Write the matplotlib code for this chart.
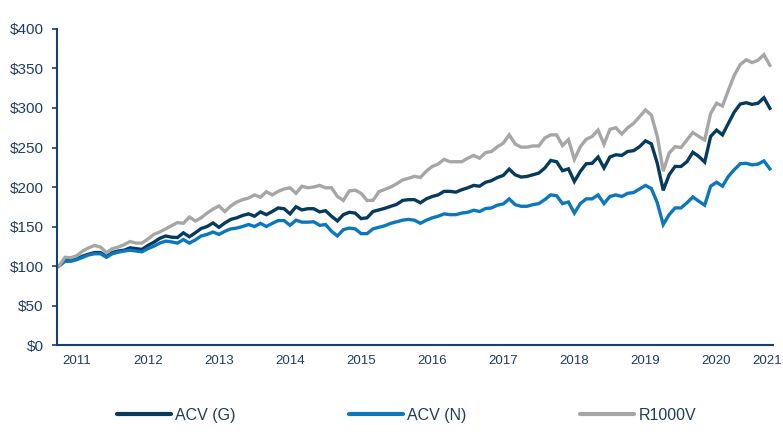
#!/usr/bin/env python3

import numpy as np
import matplotlib
matplotlib.use("Agg")
import matplotlib.pyplot as plt

# growth of $100, monthly
acv_g = [100, 107, 107, 109, 112.5, 115, 117, 117, 112, 117,
         119, 120, 123, 122, 121, 126, 130, 135, 138, 136.5,
         136, 142, 137, 142, 147.5, 150, 154.5, 149, 154.5, 159,
         161, 164, 166, 163, 168.5, 165, 169, 173.5, 172.5, 166,
         175, 171, 172.5, 172.5, 168.5, 170, 163, 157, 165, 168,
         167, 160, 161, 169, 171, 173, 175.6, 178, 183, 184,
         184, 180, 185, 188, 190, 194.5, 194.5, 193.5, 196.6, 199,
         202, 201, 206, 208, 212, 214.7, 222.7, 215.5, 212.6, 213.4,
         215.5, 217.6, 224, 233.6, 232, 220.6, 223, 207, 219.7, 229.4,
         230, 238, 224, 238, 240.8, 240, 245, 246, 251, 258.4,
         254.6, 230, 195.8, 215.5, 226, 226, 232, 244, 238.7, 231.5,
         264, 272, 266, 280.7, 295, 305, 306.7, 304.6, 306, 313, 299.6]

acv_n = [100, 106, 106, 108, 111, 114, 115.5, 115.5, 111, 115.5,
         117.5, 119, 120, 119, 118, 122, 125, 129, 131.5, 130.5,
         129, 133.5, 129, 133, 138, 140, 143, 140, 144, 147,
         148, 150, 152.5, 150, 154, 150, 154, 157.5, 157.5, 151.5,
         158, 155.5, 155.5, 156, 151.5, 152.5, 144, 138, 146, 148,
         147, 141, 141, 147, 149, 151, 154, 156, 158, 159,
         158, 154, 158, 161, 163, 166, 165, 165, 167, 168,
         170.6, 169, 172.7, 173.5, 177, 178.6, 185, 177.7, 175.6, 175.6,
         177.7, 179, 184, 190, 189, 179, 181, 167, 179, 185,
         185, 190, 179, 188, 190, 188, 192, 193, 197.5, 202,
         198, 180, 152.5, 165, 173.5, 173.5, 180, 187.4, 182, 177,
         201, 206, 201, 213.4, 222, 229.4, 230, 228, 229, 233, 223]

r1000v = [100, 111, 110.5, 113, 119, 123, 126, 124, 117, 122,
          124, 127, 131, 129, 129, 134, 140, 143, 147, 151,
          155, 154, 162, 157, 161, 167, 172, 176, 169, 176,
          181, 184, 186, 190, 187, 194, 190, 194.5, 197.5, 199,
          192, 201, 199, 200, 202, 199, 199, 188, 183, 195,
          196, 192, 183, 183, 194, 197, 200, 204, 209, 211,
          213.5, 212, 220, 226, 229, 235, 232, 232, 232, 236.5,
          240, 236.5, 243.5, 245, 251, 255.5, 266, 254.5, 250.5, 250.5,
          252, 252, 262, 266, 266, 252.5, 260, 235, 251, 260.5,
          264, 272, 254, 273, 275, 267, 275, 280.5, 289, 297.5,
          291, 264, 220, 243, 251, 250, 259.5, 269, 264, 259.5,
          293, 306, 302.5, 322.5, 341.5, 355, 361, 357.5, 360.5, 367.5, 354]

years = ['2011', '2012', '2013', '2014', '2015', '2016',
         '2017', '2018', '2019', '2020', '2021']
series_names = ['ACV (G)', 'ACV (N)', 'R1000V']

NAVY = '#073b5e'
BLUE = '#0b77bd'
GRAY = '#a6a6a6'
AXIS = '#17406d'
TEXT = '#1f3d5f'


def main():
    plt.rcParams['font.family'] = ['Liberation Sans', 'DejaVu Sans']

    fig = plt.figure(figsize=(7.83, 4.38), dpi=100)
    ax = fig.add_axes([0.0728, 0.2123, 0.9142, 0.7215])

    x = np.arange(len(acv_g))
    for vals, name, col in zip([acv_g, acv_n, r1000v], series_names,
                               [NAVY, BLUE, GRAY]):
        ax.plot(x, vals, color=col, lw=2.4, label=name,
                solid_joinstyle='miter')

    ax.set_ylim(0, 400)
    ax.set_xlim(-0.34, len(x) - 0.5)
    ax.set_yticks(np.arange(0, 401, 50))
    ax.set_yticklabels(['${:d}'.format(v) for v in range(0, 401, 50)])

    # year labels sit 3 months in, the last one is squeezed at the end
    xt = [3 + 12 * k for k in range(len(years) - 1)] + [len(x) - 1.5]
    ax.set_xticks(xt)
    ax.set_xticklabels(years)

    for s in ['top', 'right']:
        ax.spines[s].set_visible(False)
    for s in ['left', 'bottom']:
        ax.spines[s].set_color(AXIS)
        ax.spines[s].set_linewidth(1.5)

    ax.tick_params(axis='y', direction='out', length=3.8, width=1.2,
                   color=AXIS, labelcolor=TEXT, labelsize=11, pad=6)
    ax.tick_params(axis='x', length=0, labelcolor=TEXT, labelsize=9.5,
                   pad=7)

    leg = fig.legend(loc='center', bbox_to_anchor=(406.5 / 783, 0.0525),
                     ncol=3, frameon=False, fontsize=11.5,
                     handlelength=3.4, handletextpad=0.25,
                     columnspacing=7.1)
    for line in leg.get_lines():
        line.set_linewidth(3.0)
        line.set_solid_capstyle('round')
    for t in leg.get_texts():
        t.set_color(TEXT)

    fig.savefig('out.png', dpi=100)


if __name__ == "__main__":
    main()
